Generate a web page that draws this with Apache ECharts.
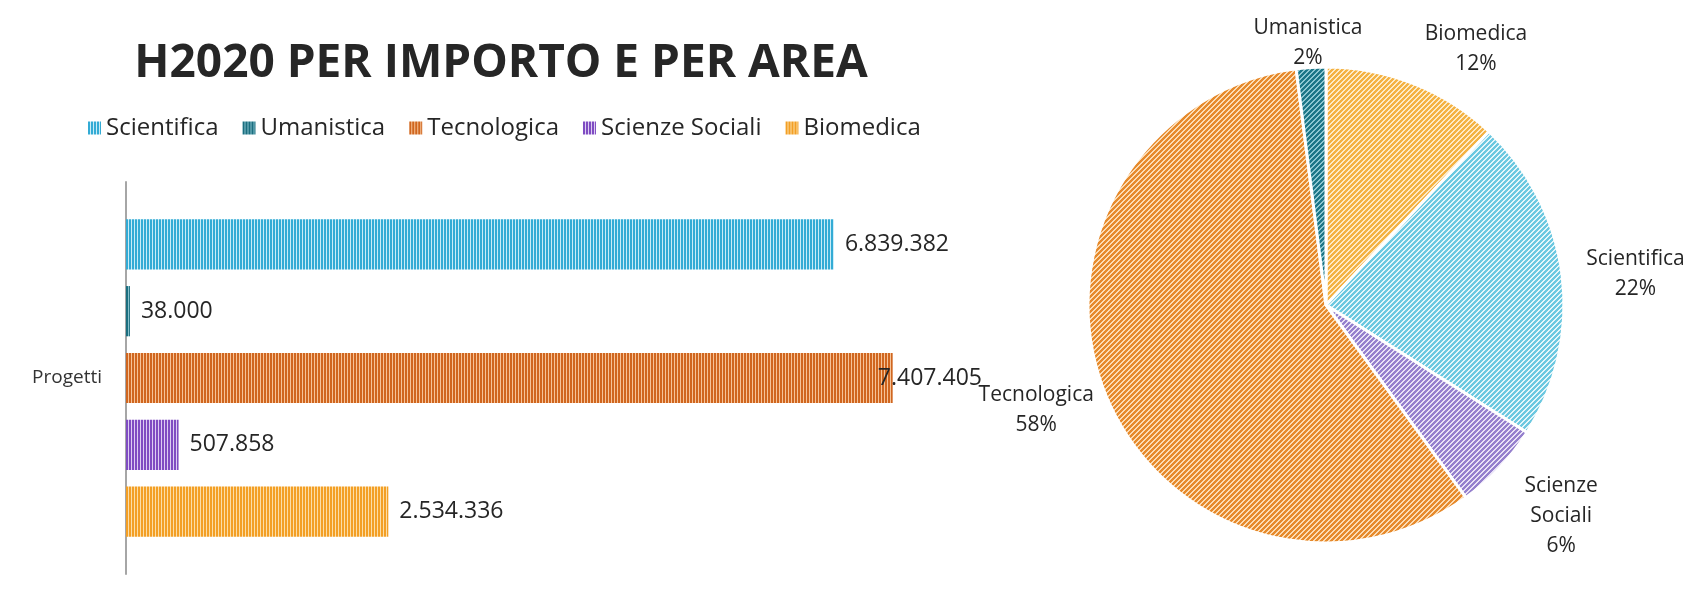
<!DOCTYPE html>
<html>
<head>
<meta charset="utf-8">
<script src="https://cdn.jsdelivr.net/npm/echarts@6/dist/echarts.min.js"></script>
<style>
html,body{margin:0;padding:0;background:#fff;}
#chart{width:1683px;height:598px;}
</style>
</head>
<body>
<div id="chart"></div>
<script>
// ---- data ----
const categories = ['Progetti'];
const barSeriesNames = ['Scientifica', 'Umanistica', 'Tecnologica', 'Scienze Sociali', 'Biomedica'];
const barValues = [6839382, 38000, 7407405, 507858, 2534336];
const pieNames = ['Biomedica', 'Scientifica', 'Scienze Sociali', 'Tecnologica', 'Umanistica'];
const pieValues = [12, 22, 6, 58, 2];

// ---- styles ----
const FONT = 'Open Sans';
function hexToRgb(h) { const n = parseInt(h.slice(1), 16); return [(n >> 16) & 255, (n >> 8) & 255, n & 255]; }
function stripe(c1, c2, period, on, diagonal) {
  const cv = document.createElement('canvas');
  cv.width = period; cv.height = period;
  const ctx = cv.getContext('2d');
  const img = ctx.createImageData(period, period);
  const a = hexToRgb(c1), b = hexToRgb(c2);
  for (let y = 0; y < period; y++) for (let x = 0; x < period; x++) {
    const k = diagonal ? (x + y) % period : x % period;
    const c = k < on ? a : b;
    const o = (y * period + x) * 4;
    img.data[o] = c[0]; img.data[o + 1] = c[1]; img.data[o + 2] = c[2]; img.data[o + 3] = 255;
  }
  ctx.putImageData(img, 0, 0);
  return { image: cv, repeat: 'repeat' };
}
const barColors = {
  'Scientifica': stripe('#33abd5', '#c8ecf7', 3, 2, false),
  'Umanistica': stripe('#1b6e7f', '#86c0cb', 3, 2, false),
  'Tecnologica': stripe('#d0661f', '#f6c398', 3, 2, false),
  'Scienze Sociali': stripe('#7f4cc2', '#dccdf2', 3, 2, false),
  'Biomedica': stripe('#f39f25', '#fcdda6', 3, 2, false)
};
const pieColors = {
  'Biomedica': stripe('#f4b243', '#fdebc8', 5, 3, true),
  'Scientifica': stripe('#6cc8e0', '#e4f6fa', 5, 3, true),
  'Scienze Sociali': stripe('#9580cd', '#e8e1f6', 5, 3, true),
  'Tecnologica': stripe('#e68a2c', '#fcdcb4', 5, 3, true),
  'Umanistica': stripe('#1d7788', '#8ec7d1', 5, 3, true)
};
const PIE = { cx: 1326, cy: 305, r: 238 };
const labelNudge = {
  'Biomedica': { shift: 7, gap: 24 },
  'Scientifica': { shift: 1.2, gap: 24 },
  'Scienze Sociali': { shift: -2, gap: 38 },
  'Tecnologica': { shift: 0, gap: 16 },
  'Umanistica': { shift: 0, gap: -5 }
};
const LABEL_LIMIT = 982;

function fmt(v) { return String(v).replace(/\B(?=(\d{3})+(?!\d))/g, '.'); }

const pieTotal = pieValues.reduce((s, v) => s + v, 0);

const chart = echarts.init(document.getElementById('chart'), null, { renderer: 'canvas' });

const series = barSeriesNames.map((name, i) => ({
  name: name,
  type: 'bar',
  data: [barValues[i]],
  barCategoryGap: '19%',
  barGap: '33%',
  itemStyle: { color: barColors[name] },
  label: {
    show: true, position: 'right', distance: 11,
    formatter: p => fmt(p.value),
    fontFamily: FONT, fontSize: 23, color: '#262626'
  },
  labelLayout: function (p) {
    const over = p.labelRect.x + p.labelRect.width - LABEL_LIMIT;
    return over > 0 ? { dx: -over } : {};
  },
  emphasis: { disabled: true },
  animation: false
}));

series.push({
  name: 'Aree',
  type: 'pie',
  center: [PIE.cx, PIE.cy],
  radius: PIE.r,
  startAngle: 90,
  clockwise: true,
  percentPrecision: 0,
  avoidLabelOverlap: false,
  data: pieNames.map((n, i) => ({ name: n, value: pieValues[i], itemStyle: { color: pieColors[n] } })),
  itemStyle: { borderColor: '#ffffff', borderWidth: 3 },
  label: {
    show: true, position: 'outside',
    formatter: p => p.name.replace(' ', '\n') + '\n' + p.percent + '%',
    fontFamily: FONT, fontSize: 21, lineHeight: 30, color: '#262626', align: 'center'
  },
  labelLine: { show: false },
  labelLayout: function (p) {
    const i = p.dataIndex;
    let cum = 0;
    for (let k = 0; k < i; k++) cum += pieValues[k];
    const nudge = labelNudge[pieNames[i]];
    const mid = ((cum + pieValues[i] / 2) / pieTotal) * 360 + nudge.shift;
    const rad = mid * Math.PI / 180;
    const dx = Math.sin(rad), dy = -Math.cos(rad);
    const ax = PIE.cx + (PIE.r + nudge.gap) * dx;
    const ay = PIE.cy + (PIE.r + nudge.gap) * dy;
    const w = p.labelRect.width, h = p.labelRect.height;
    return { x: ax + dx * w / 2, y: ay + dy * h / 2, align: 'center', verticalAlign: 'middle' };
  },
  emphasis: { disabled: true },
  animation: false
});

chart.setOption({
  backgroundColor: '#ffffff',
  animation: false,
  title: {
    text: 'H2020 PER IMPORTO E PER AREA',
    left: 496, top: 36, textAlign: 'center',
    textStyle: { fontFamily: FONT, fontSize: 46, fontWeight: 'bold', color: '#262626' }
  },
  legend: {
    data: barSeriesNames,
    left: 83, top: 111,
    itemWidth: 13, itemHeight: 13, itemGap: 24,
    icon: 'rect',
    textStyle: { fontFamily: FONT, fontSize: 24, color: '#262626' },
    selectedMode: false
  },
  grid: { left: 126, top: 182, width: 828, height: 392, containLabel: false },
  xAxis: { type: 'value', min: 0, max: 8000000, show: false },
  yAxis: {
    type: 'category', data: categories, inverse: true,
    axisLine: { show: true, lineStyle: { color: '#a6a6a6', width: 2 } },
    axisTick: { show: false },
    axisLabel: { fontFamily: FONT, fontSize: 19, color: '#333', margin: 24 }
  },
  series: series
});
</script>
</body>
</html>
